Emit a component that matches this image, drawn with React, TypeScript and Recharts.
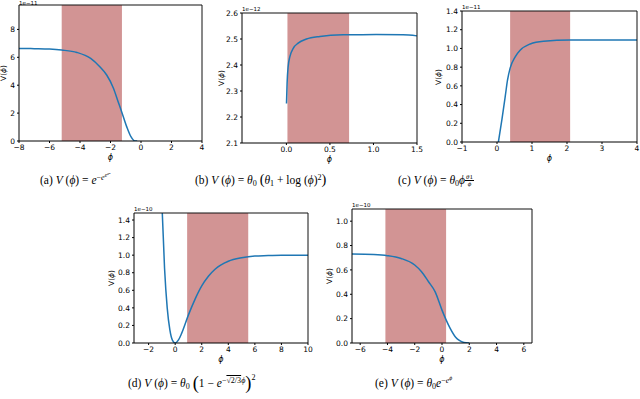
import React from 'react';
import { LineChart, Line, XAxis, YAxis, ReferenceArea, ReferenceLine } from 'recharts';

// (a) V = e^-e^e^e^phi
const phiA = [-8, -7, -6, -5.2, -4.2, -3.3, -2.7, -2.25, -1.8, -1.5, -1.27, -0.94, -0.66, -0.4, -0.25];
const vA = [6.64, 6.62, 6.59, 6.52, 6.35, 5.92, 5.32, 4.73, 3.77, 2.82, 2.1, 1.03, 0.31, 0.0, 0.0];
const shadeA = [-5.2, -1.25];
const xTicksA = [-8, -6, -4, -2, 0, 2, 4];
const yTicksA = [0, 2, 4, 6, 8];

// (b) theta0 (theta1 + log(phi)^2)
const phiB = [0.001, 0.008, 0.02, 0.04, 0.08, 0.135, 0.23, 0.385, 0.65, 1.03, 1.34, 1.5];
const vB = [2.252, 2.33, 2.394, 2.432, 2.465, 2.484, 2.5, 2.51, 2.516, 2.517, 2.516, 2.512];
const shadeB = [0.012, 0.72];
const xTicksB = [0, 0.5, 1, 1.5];
const yTicksB = [2.1, 2.2, 2.3, 2.4, 2.5, 2.6];

// (c) theta0 phi^(theta1/phi)
const phiC = [0.04, 0.14, 0.24, 0.3, 0.375, 0.52, 0.66, 0.95, 1.33, 2.09, 3, 4];
const vC = [0, 0.24, 0.5, 0.66, 0.79, 0.91, 0.98, 1.048, 1.077, 1.09, 1.09, 1.09];
const shadeC = [0.375, 2.09];
const xTicksC = [-1, 0, 1, 2, 3, 4];
const yTicksC = [0, 0.2, 0.4, 0.6, 0.8, 1.0, 1.2, 1.4];

// (d) Starobinsky
const phiD = [-1.2, -1, -0.8, -0.6, -0.4, -0.2, 0, 0.25, 0.5, 1, 1.5, 2, 2.5, 3, 4, 5, 6, 7, 8, 10];
const vD = [2.0, 1.59, 0.85, 0.4, 0.15, 0.03, 0, 0.035, 0.115, 0.32, 0.5, 0.65, 0.76, 0.84, 0.93, 0.97, 0.99, 0.995, 1.0, 1.0];
const shadeD = [0.9, 5.5];
const xTicksD = [-2, 0, 2, 4, 6, 8, 10];
const yTicksD = [0, 0.2, 0.4, 0.6, 0.8, 1.0, 1.2, 1.4];

// (e) theta0 e^-e^phi
const phiE = [-6.6, -5, -4, -3, -2, -1.5, -1, -0.5, 0, 0.3, 0.6, 1, 1.3, 1.6, 2];
const vE = [0.73, 0.726, 0.717, 0.694, 0.64, 0.585, 0.505, 0.42, 0.27, 0.19, 0.12, 0.048, 0.019, 0.005, 0];
const shadeE = [-4.15, 0.3];
const xTicksE = [-6, -4, -2, 0, 2, 4, 6];
const yTicksE = [0, 0.2, 0.4, 0.6, 0.8, 1.0];

const tickStyle = { fontSize: 7.5, fill: '#000', fontFamily: 'DejaVu Sans' };
const intFmt = (v: number) => String(v).replace('-', '\u2212');
const decFmt = (v: number) => v.toFixed(1).replace('-', '\u2212');

function Panel(props: any) {
  const { left, top, w, h, phi, v, xDomain, yDomain, xTicks, yTicks, shade, xFmt, yFmt, exp, yl } = props;
  const data = phi.map((p: number, i: number) => ({ phi: p, v: v[i] }));
  const mt = 12, ya = 30, xa = 28, mr = 10;
  return (
    <>
      <div style={{ position: 'absolute', left: left - ya, top: top - mt }}>
        <LineChart width={w + ya + mr} height={h + mt + xa} data={data} margin={{ top: mt, right: mr, bottom: 0, left: 0 }}>
          <XAxis type="number" dataKey="phi" domain={xDomain} ticks={xTicks} allowDataOverflow interval={0}
            height={xa} tickSize={2} tick={tickStyle} tickFormatter={xFmt} stroke="#000" />
          <YAxis type="number" domain={yDomain} ticks={yTicks} allowDataOverflow interval={0}
            width={ya} tickSize={2} tick={tickStyle} tickFormatter={yFmt} stroke="#000" />
          <ReferenceArea x1={shade[0]} x2={shade[1]} fill="#a52a2a" fillOpacity={0.5} stroke="none" />
          <Line dataKey="v" type="monotone" dot={false} stroke="#1f77b4" strokeWidth={1.5} isAnimationActive={false} />
          {/* top and right spines */}
          <ReferenceLine y={yDomain[1]} stroke="#111" strokeWidth={1} ifOverflow="visible" />
          <ReferenceLine x={xDomain[1]} stroke="#111" strokeWidth={1} ifOverflow="visible" />
        </LineChart>
      </div>
      <div style={{ position: 'absolute', left: left, top: Math.max(0, top - 7), fontSize: 5.5, fontFamily: 'DejaVu Sans', lineHeight: '6px' }}>{exp}</div>
      <div style={{ position: 'absolute', left: left + w / 2 - 10, top: top + h + 12, width: 20, textAlign: 'center', fontSize: 8, fontFamily: 'DejaVu Sans', fontStyle: 'italic', lineHeight: '10px' }}>ϕ</div>
      <div style={{ position: 'absolute', left: yl - 15, top: top + h / 2 - 5, width: 30, height: 10, textAlign: 'center', fontSize: 7.5, fontFamily: 'DejaVu Sans', lineHeight: '10px', transform: 'rotate(-90deg)' }}>V(<i>ϕ</i>)</div>
    </>
  );
}

const sup = { fontSize: '0.7em', verticalAlign: '0.5em', lineHeight: 0 } as const;
const sub = { fontSize: '0.7em', verticalAlign: '-0.25em', lineHeight: 0 } as const;
const capBase = { position: 'absolute', fontSize: 11.5, fontFamily: 'Liberation Serif', whiteSpace: 'nowrap', lineHeight: '14px' } as const;
const bigParen = { fontSize: '1.25em', lineHeight: 0 } as const;

export default function App() {
  return (
    <div style={{ position: 'fixed', left: 0, top: 0, width: 640, height: 399, background: '#fff', overflow: 'hidden' }}>
      <Panel left={19} top={5} w={183} h={136} phi={phiA} v={vA} xDomain={[-8, 4]} yDomain={[0, 9.75]} yl={4}
        xTicks={xTicksA} yTicks={yTicksA} shade={shadeA} xFmt={intFmt} yFmt={intFmt} exp="1e−11" />
      <Panel left={242} top={13} w={175} h={130} phi={phiB} v={vB} xDomain={[-0.51, 1.5]} yDomain={[2.1, 2.6]} yl={222}
        xTicks={xTicksB} yTicks={yTicksB} shade={shadeB} xFmt={decFmt} yFmt={decFmt} exp="1e−12" />
      <Panel left={462} top={11} w={175} h={131} phi={phiC} v={vC} xDomain={[-1, 4]} yDomain={[0, 1.4]} yl={439}
        xTicks={xTicksC} yTicks={yTicksC} shade={shadeC} xFmt={intFmt} yFmt={decFmt} exp="1e−11" />
      <Panel left={134} top={213} w={174} h={130} phi={phiD} v={vD} xDomain={[-3.1, 10]} yDomain={[0, 1.48]} yl={112}
        xTicks={xTicksD} yTicks={yTicksD} shade={shadeD} xFmt={intFmt} yFmt={decFmt} exp="1e−10" />
      <Panel left={352} top={209} w={180} h={134} phi={phiE} v={vE} xDomain={[-6.6, 6.6]} yDomain={[0, 1.1]} yl={330}
        xTicks={xTicksE} yTicks={yTicksE} shade={shadeE} xFmt={intFmt} yFmt={decFmt} exp="1e−10" />

      <div style={{ ...capBase, left: 40, top: 173 }}>
        (a) <i>V</i> (<i>ϕ</i>) = <i>e</i><span style={sup}>−<i>e</i><span style={sup}><i>e</i><span style={sup}><i>e</i><span style={sup}><i>ϕ</i></span></span></span></span>
      </div>
      <div style={{ ...capBase, left: 195, top: 173 }}>
        (b) <i>V</i> (<i>ϕ</i>) = <i>θ</i><span style={sub}>0</span> <span style={bigParen}>(</span><i>θ</i><span style={sub}>1</span> + log (<i>ϕ</i>)<span style={sup}>2</span><span style={bigParen}>)</span>
      </div>
      <div style={{ ...capBase, left: 398, top: 173 }}>
        (c) <i>V</i> (<i>ϕ</i>) = <i>θ</i><span style={sub}>0</span><i>ϕ</i>
        <span style={{ display: 'inline-flex', flexDirection: 'column', alignItems: 'center', fontSize: '0.6em', lineHeight: '6px', verticalAlign: '0.7em' }}>
          <span style={{ borderBottom: '0.5px solid #000', padding: '0 1px' }}><i>θ</i>1</span><i>ϕ</i>
        </span>
      </div>
      <div style={{ ...capBase, left: 128, top: 376 }}>
        (d) <i>V</i> (<i>ϕ</i>) = <i>θ</i><span style={sub}>0</span> <span style={{ fontSize: '1.6em', lineHeight: 0, verticalAlign: '-0.1em' }}>(</span>1 − <i>e</i><span style={sup}>−<span style={{ textDecoration: 'overline' }}>√2/3</span><i>ϕ</i></span><span style={{ fontSize: '1.6em', lineHeight: 0, verticalAlign: '-0.1em' }}>)</span><span style={{ ...sup, verticalAlign: '0.9em' }}>2</span>
      </div>
      <div style={{ ...capBase, left: 375, top: 376 }}>
        (e) <i>V</i> (<i>ϕ</i>) = <i>θ</i><span style={sub}>0</span><i>e</i><span style={sup}>−<i>e</i><span style={sup}><i>ϕ</i></span></span>
      </div>
    </div>
  );
}
